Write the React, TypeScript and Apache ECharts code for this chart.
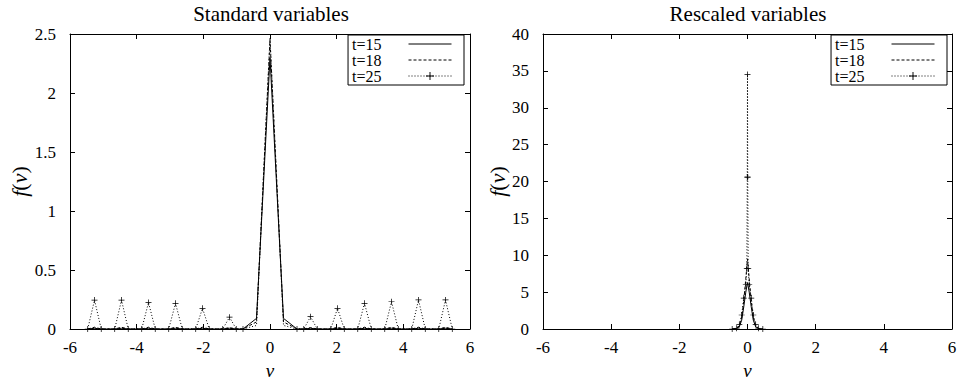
import React, { useEffect, useRef } from "react";
import * as echarts from "echarts";

// Standard variables: velocity grid and f(v) for each time
const vStd = [
  -5.468, -5.265, -5.063, -4.658, -4.455, -4.253, -3.848, -3.645, -3.443,
  -3.038, -2.835, -2.633, -2.228, -2.025, -1.823, -1.418, -1.215, -1.013,
  -0.81, -0.405, 0, 0.405, 0.81,
  1.013, 1.215, 1.418, 1.823, 2.025, 2.228, 2.633, 2.835, 3.038,
  3.443, 3.645, 3.848, 4.253, 4.455, 4.658, 5.063, 5.265, 5.468,
];
const fStd15 = [
  0, 0.006, 0, 0, 0.006, 0, 0, 0.006, 0,
  0, 0.006, 0, 0, 0.006, 0, 0, 0.006, 0,
  0, 0.09, 2.3, 0.09, 0,
  0, 0.006, 0, 0, 0.006, 0, 0, 0.006, 0,
  0, 0.006, 0, 0, 0.006, 0, 0, 0.006, 0,
];
const fStd18 = [
  0, 0.015, 0, 0, 0.015, 0, 0, 0.015, 0,
  0, 0.015, 0, 0, 0.015, 0, 0, 0.012, 0,
  0, 0.06, 2.45, 0.06, 0,
  0, 0.012, 0, 0, 0.015, 0, 0, 0.015, 0,
  0, 0.015, 0, 0, 0.015, 0, 0, 0.015, 0,
];
const fStd25 = [
  0, 0.245, 0, 0, 0.245, 0, 0, 0.225, 0,
  0, 0.218, 0, 0, 0.175, 0, 0, 0.1, 0,
  0, 0.03, 2.47, 0.03, 0,
  0, 0.104, 0, 0, 0.175, 0, 0, 0.218, 0,
  0, 0.231, 0, 0, 0.246, 0, 0, 0.246, 0,
];
// points of the t=25 standard curve drawn without a marker (central peak)
const stdUnmarked = [-0.405, 0, 0.405];

// Rescaled variables
const vRes = [-0.45, -0.32, -0.24, -0.17, -0.11, -0.05, 0, 0.05, 0.11, 0.17, 0.24, 0.32, 0.45];
const fRes15 = [0, 0.05, 0.3, 1.2, 3.0, 5.0, 6.3, 5.0, 3.0, 1.2, 0.3, 0.05, 0];
const fRes18 = [0, 0.08, 0.45, 1.6, 3.8, 6.8, 9.5, 6.8, 3.8, 1.6, 0.45, 0.08, 0];
const vRes25 = [
  -0.45, -0.32, -0.24, -0.17, -0.11, -0.05, -0.02, -0.007, 0,
  0.007, 0.02, 0.05, 0.11, 0.17, 0.24, 0.32, 0.45,
];
const fRes25 = [0, 0.1, 0.6, 1.9, 4.2, 6.0, 8.2, 20.6, 34.5, 20.6, 8.2, 6.0, 4.2, 1.9, 0.6, 0.1, 0];

const seriesNames = ["t=15", "t=18", "t=25"];
const panelTitles = ["Standard variables", "Rescaled variables"];

const FONT = "Times New Roman";
const PLUS = "path://M-1,-0.12H1V0.12H-1Z M-0.12,-1H0.12V1H-0.12Z";

const zip = (xs: number[], ys: number[]) => xs.map((x, i) => [x, ys[i]]);

export default function App() {
  const ref = useRef<HTMLDivElement>(null);

  useEffect(() => {
    document.body.style.margin = "0";
    if (!ref.current) return;
    const chart = echarts.init(ref.current, null, { renderer: "svg" });

    const grids = [
      { left: 70, top: 34, width: 400, height: 295, outerBoundsMode: "none" },
      { left: 543, top: 34, width: 409, height: 295, outerBoundsMode: "none" },
    ];

    const tickLabel = { color: "#000", fontFamily: FONT, fontSize: 17 };
    const axisLine = { show: true, onZero: false, lineStyle: { color: "#000", width: 1 } };
    const tick = { show: true, inside: true, length: 5, lineStyle: { color: "#000" } };

    const xAxes: any[] = [];
    const yAxes: any[] = [];
    [0, 1].forEach((g) => {
      const xBase = {
        type: "value",
        gridIndex: g,
        min: -6,
        max: 6,
        interval: 2,
        splitLine: { show: false },
        axisLine,
        axisTick: tick,
      };
      xAxes.push({
        ...xBase,
        position: "bottom",
        axisLabel: { ...tickLabel, margin: 10 },
        name: "v",
        nameLocation: "middle",
        nameGap: 26,
        nameTextStyle: { color: "#000", fontFamily: FONT, fontSize: 19, fontStyle: "italic" },
      });
      xAxes.push({ ...xBase, position: "top", axisLabel: { show: false } });

      const yBase = {
        type: "value",
        gridIndex: g,
        min: 0,
        max: g === 0 ? 2.5 : 40,
        interval: g === 0 ? 0.5 : 5,
        splitLine: { show: false },
        axisLine,
        axisTick: tick,
      };
      yAxes.push({
        ...yBase,
        position: "left",
        axisLabel: { ...tickLabel, margin: 14 },
        name: "{i|f}({i|v})",
        nameLocation: "middle",
        nameRotate: 90,
        nameGap: g === 0 ? 37 : 32,
        nameTextStyle: {
          color: "#000",
          fontFamily: FONT,
          fontSize: 22,
          rich: { i: { fontFamily: FONT, fontSize: 22, fontStyle: "italic", color: "#000" } },
        },
      });
      yAxes.push({ ...yBase, position: "right", axisLabel: { show: false } });
    });

    const lineBase = (name: string, g: number, data: any[]) => ({
      name,
      type: "line",
      xAxisIndex: g * 2,
      yAxisIndex: g * 2,
      data,
      symbol: "none",
      showSymbol: false,
      lineStyle: { color: "#000", width: 1, type: "solid" as any },
      itemStyle: { color: "#000" },
      z: 3,
    });

    const std25 = vStd.map((v, i) =>
      stdUnmarked.includes(v) ? { value: [v, fStd25[i]], symbol: "none" } : [v, fStd25[i]]
    );

    const series: any[] = [];
    const stdData = [zip(vStd, fStd15), zip(vStd, fStd18), std25];
    const resData = [zip(vRes, fRes15), zip(vRes, fRes18), zip(vRes25, fRes25)];
    [stdData, resData].forEach((sets, g) => {
      sets.forEach((d, k) => {
        const s: any = lineBase(seriesNames[k], g, d);
        if (k === 1) s.lineStyle.type = [3, 2];
        if (k === 2) {
          s.lineStyle.type = [1, 2];
          s.symbol = PLUS;
          s.symbolSize = 6;
          s.showSymbol = true;
        }
        series.push(s);
      });
    });

    const legendBase = {
      orient: "vertical",
      align: "right",
      data: seriesNames.map((n, k) => (k < 2 ? { name: n, itemStyle: { opacity: 0 } } : { name: n })),
      top: 35,
      itemWidth: 43,
      itemHeight: 10,
      itemGap: 0,
      padding: [1, 12, 1, 4],
      borderColor: "#000",
      borderWidth: 1,
      borderRadius: 0,
      backgroundColor: "#fff",
      selectedMode: false,
      lineStyle: { width: 1 },
      textStyle: {
        color: "#000",
        fontFamily: FONT,
        fontSize: 16,
        lineHeight: 15,
        padding: [0, 22, 0, 0],
      },
    };

    chart.setOption({
      animation: false,
      backgroundColor: "#fff",
      title: panelTitles.map((t, g) => ({
        text: t,
        left: g === 0 ? 271 : 748,
        top: 3,
        padding: 0,
        textAlign: "center",
        textStyle: { color: "#000", fontFamily: FONT, fontSize: 21, fontWeight: "normal" },
      })),
      legend: [
        { ...legendBase, right: 970 - 464 },
        { ...legendBase, right: 970 - 947 },
      ],
      grid: grids,
      xAxis: xAxes,
      yAxis: yAxes,
      series,
    });

    return () => chart.dispose();
  }, []);

  return <div ref={ref} style={{ width: 970, height: 380 }} />;
}
